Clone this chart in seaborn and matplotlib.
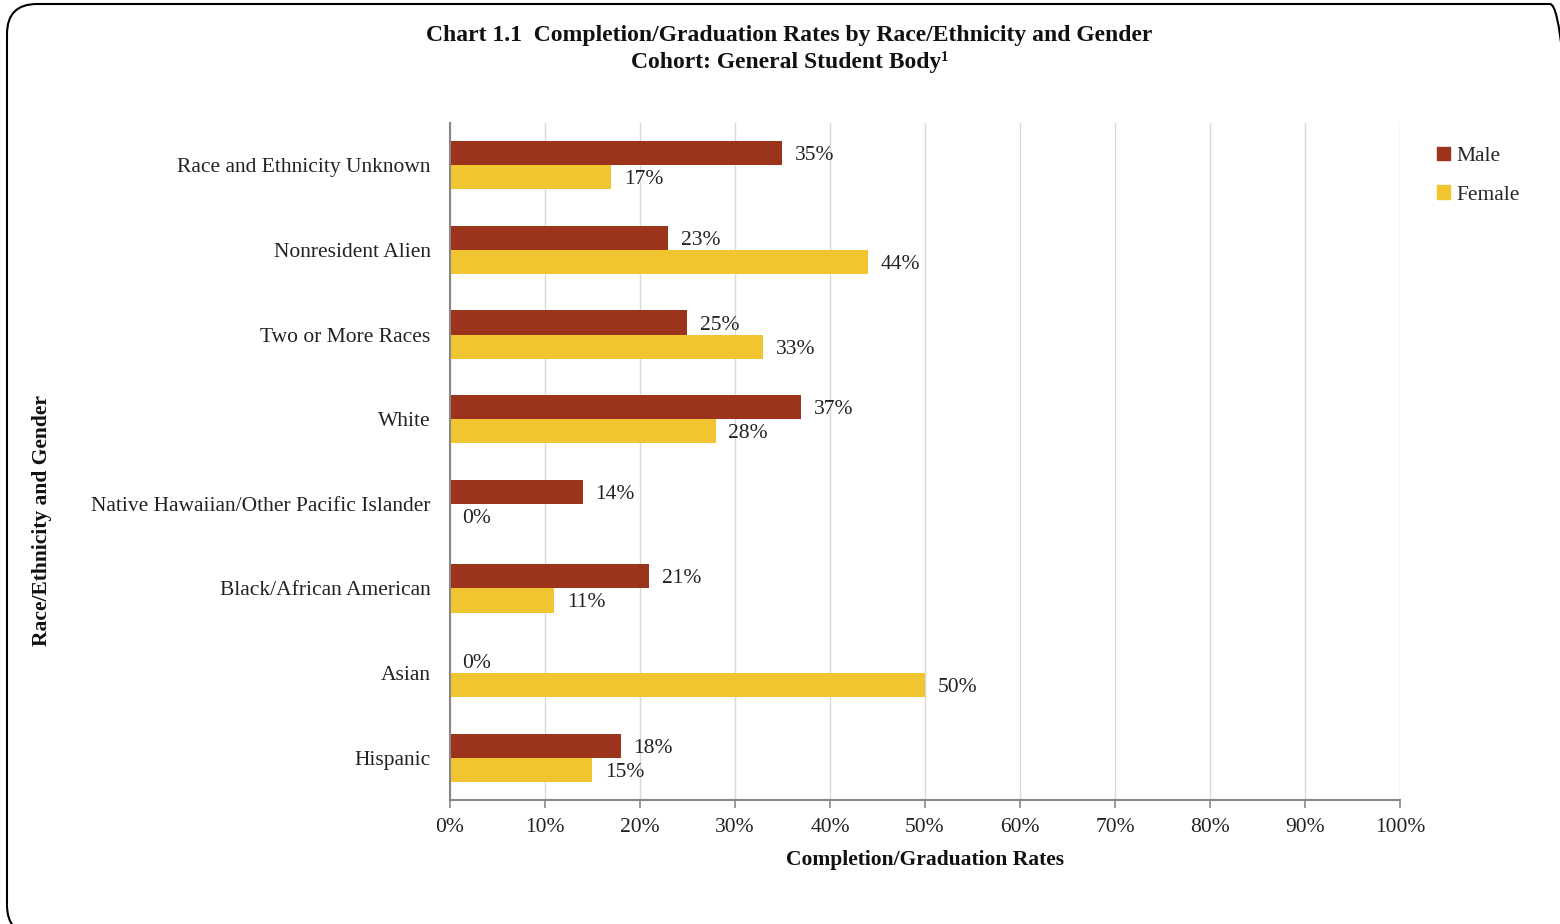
import matplotlib
matplotlib.use("Agg")
import matplotlib.pyplot as plt
import matplotlib.patches as mpatches
from matplotlib.transforms import IdentityTransform
from matplotlib.ticker import PercentFormatter
import pandas as pd
import seaborn as sns

# --- data ---
categories = ["Race and Ethnicity Unknown", "Nonresident Alien", "Two or More Races",
              "White", "Native Hawaiian/Other Pacific Islander", "Black/African American",
              "Asian", "Hispanic"]
male = [35, 23, 25, 37, 14, 21, 0, 18]
female = [17, 44, 33, 28, 0, 11, 50, 15]
genders = ["Male", "Female"]
colors = ["#9C341C", "#F0C530"]

df = pd.DataFrame({
    "Race": categories * 2,
    "Gender": ["Male"] * len(male) + ["Female"] * len(female),
    "Rate": male + female,
})

sns.set_theme(style="white")
plt.rcParams["font.family"] = ["Liberation Serif", "DejaVu Serif"]

fig = plt.figure(figsize=(15.6, 9.24), dpi=100)
ax = fig.add_axes([450 / 1560, 1 - 800 / 924, 950 / 1560, 677 / 924])

sns.barplot(data=df, x="Rate", y="Race", hue="Gender", hue_order=genders,
            palette=colors, orient="h", width=0.57, saturation=1, ax=ax,
            order=categories, errorbar=None, linewidth=0, zorder=2)

# value labels, nudged down slightly to sit on the bar centre
for cont in ax.containers:
    anns = ax.bar_label(cont, labels=[f"{v:.0f}%" for v in cont.datavalues],
                        padding=9, fontsize=15.5, color="#222222")
    for a in anns:
        a.set_va("center_baseline")

ax.set_xlim(0, 100)
ax.set_xticks(range(0, 101, 10))
ax.xaxis.set_major_formatter(PercentFormatter(decimals=0))
ax.grid(axis="x", color="#D9D9D9", linewidth=1, zorder=0)
ax.set_axisbelow(True)

for side in ["top", "right"]:
    ax.spines[side].set_visible(False)
for side in ["left", "bottom"]:
    ax.spines[side].set_color("#888888")
    ax.spines[side].set_linewidth(1.5)
    ax.spines[side].set_zorder(5)

ax.tick_params(axis="x", bottom=True, length=6, width=1.2, color="#888888",
               labelsize=15.5, labelcolor="#222222", pad=7)
ax.tick_params(axis="y", left=False, labelsize=15.5, labelcolor="#222222", pad=8)

ax.set_xlabel("Completion/Graduation Rates", fontsize=15.5, fontweight="bold",
              color="#111111", labelpad=9)
ax.set_ylabel("")
fig.text(42 / 1560, 1 - 520 / 924, "Race/Ethnicity and Gender", rotation=90,
         ha="center", va="center", fontsize=15.5, fontweight="bold", color="#111111")

fig.text(0.506, 1 - 35 / 924, "Chart 1.1  Completion/Graduation Rates by Race/Ethnicity and Gender",
         ha="center", va="center", fontsize=17, fontweight="bold", color="#111111")
fig.text(0.506, 1 - 62 / 924, "Cohort: General Student Body\u00b9",
         ha="center", va="center", fontsize=17, fontweight="bold", color="#111111")

handles = [mpatches.Patch(color=c, label=g) for g, c in zip(genders, colors)]
ax.legend(handles=handles, loc="upper left", bbox_to_anchor=(1428 / 1560, 1 - 138 / 924),
          bbox_transform=fig.transFigure, frameon=False, fontsize=15.5,
          handlelength=0.6, handleheight=0.6, handletextpad=0.3, labelspacing=0.9,
          borderaxespad=0)

# rounded border around the chart area
border = mpatches.FancyBboxPatch((7, -11), 1573, 931, boxstyle="round,pad=0,rounding_size=30",
                                 transform=IdentityTransform(), fill=False,
                                 edgecolor="black", linewidth=1.5)
fig.add_artist(border)

fig.savefig("out.png", dpi=100)
